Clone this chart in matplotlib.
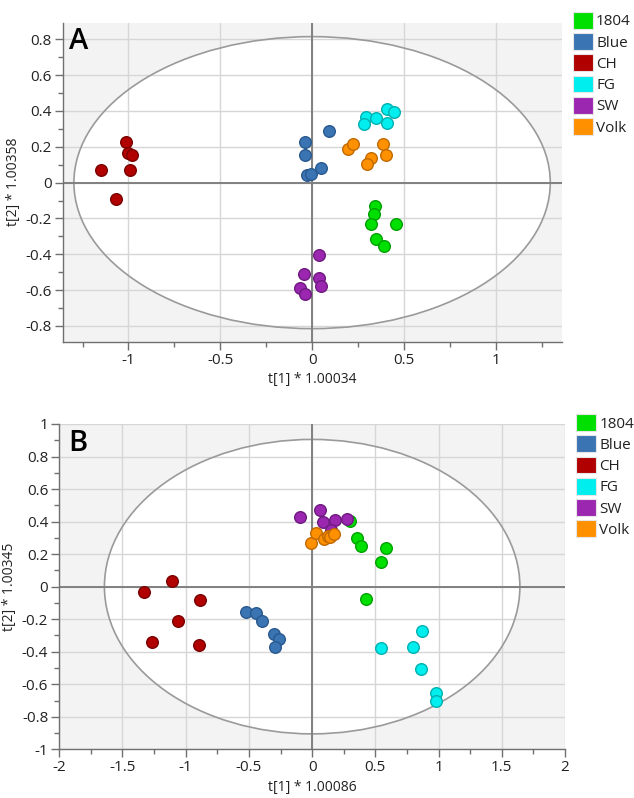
import matplotlib
matplotlib.use("Agg")
import matplotlib.pyplot as plt
from matplotlib.patches import Ellipse, Patch
from matplotlib.ticker import MultipleLocator, FuncFormatter

plt.rcParams['font.family'] = ['Open Sans', 'DejaVu Sans']

groups = ["1804", "Blue", "CH", "FG", "SW", "Volk"]
fill_colors = ["#00e000", "#3b74b3", "#b00000", "#00eeee", "#9b27b0", "#ff9000"]
edge_colors = ["#00a000", "#28598f", "#7a0000", "#00b0b0", "#6e1a80", "#c06a00"]

# Panel A scores
a_1804_x = [0.345, 0.338, 0.319, 0.457, 0.348, 0.394]
a_1804_y = [-0.128, -0.173, -0.232, -0.232, -0.314, -0.353]
a_blue_x = [-0.040, -0.040, -0.027, -0.008, 0.048, 0.093]
a_blue_y = [0.229, 0.155, 0.043, 0.050, 0.080, 0.289]
a_ch_x = [-1.013, -1.004, -0.979, -1.150, -0.993, -1.069]
a_ch_y = [0.229, 0.166, 0.153, 0.071, 0.071, -0.093]
a_fg_x = [0.294, 0.283, 0.348, 0.407, 0.446, 0.407]
a_fg_y = [0.368, 0.326, 0.363, 0.410, 0.393, 0.333]
a_sw_x = [0.035, -0.046, 0.040, 0.049, -0.066, -0.038]
a_sw_y = [-0.403, -0.511, -0.534, -0.576, -0.589, -0.623]
a_volk_x = [0.194, 0.225, 0.385, 0.400, 0.320, 0.298]
a_volk_y = [0.186, 0.214, 0.214, 0.155, 0.140, 0.103]

# Panel B scores
b_1804_x = [0.303, 0.357, 0.383, 0.581, 0.547, 0.422]
b_1804_y = [0.404, 0.297, 0.250, 0.240, 0.153, -0.073]
b_blue_x = [-0.521, -0.441, -0.394, -0.304, -0.265, -0.296]
b_blue_y = [-0.155, -0.161, -0.213, -0.289, -0.321, -0.373]
b_ch_x = [-1.112, -1.329, -0.888, -1.062, -1.263, -0.896]
b_ch_y = [0.036, -0.032, -0.081, -0.213, -0.338, -0.356]
b_fg_x = [0.871, 0.547, 0.795, 0.864, 0.977, 0.977]
b_fg_y = [-0.270, -0.379, -0.371, -0.504, -0.654, -0.700]
b_sw_x = [-0.098, 0.060, 0.084, 0.179, 0.277, 0.150]
b_sw_y = [0.431, 0.472, 0.398, 0.408, 0.418, 0.350]
b_volk_x = [-0.013, 0.029, 0.092, 0.125, 0.145, 0.171]
b_volk_y = [0.271, 0.332, 0.291, 0.311, 0.305, 0.324]

a_x = [a_1804_x, a_blue_x, a_ch_x, a_fg_x, a_sw_x, a_volk_x]
a_y = [a_1804_y, a_blue_y, a_ch_y, a_fg_y, a_sw_y, a_volk_y]
b_x = [b_1804_x, b_blue_x, b_ch_x, b_fg_x, b_sw_x, b_volk_x]
b_y = [b_1804_y, b_blue_y, b_ch_y, b_fg_y, b_sw_y, b_volk_y]

a_ellipse = (1.297, 0.815)
b_ellipse = (1.643, 0.905)

fig = plt.figure(figsize=(6.34, 7.98), dpi=100)
axA = fig.add_axes([0.0989, 0.5718, 0.787, 0.3998])
axB = fig.add_axes([0.0935, 0.0610, 0.7977, 0.4077])


def fmt(v, pos):
    if abs(v) < 1e-9:
        return "0"
    s = ("%.2f" % v).rstrip("0").rstrip(".")
    return s


def style(ax, xlim, ylim, xmaj, ymaj, ell, xlabel, ylabel, letter, letter_pos, ylabel_x):
    ax.set_facecolor("#f3f3f3")
    ax.set_xlim(*xlim)
    ax.set_ylim(*ylim)
    ax.xaxis.set_major_locator(MultipleLocator(xmaj))
    ax.xaxis.set_minor_locator(MultipleLocator(0.25))
    ax.yaxis.set_major_locator(MultipleLocator(ymaj))
    ax.yaxis.set_minor_locator(MultipleLocator(0.1))
    ax.xaxis.set_major_formatter(FuncFormatter(fmt))
    ax.yaxis.set_major_formatter(FuncFormatter(fmt))
    ax.set_axisbelow(True)
    ax.grid(True, which="major", color="#d6d6d6", linewidth=1.0, zorder=0.5)
    e = Ellipse((0, 0), 2 * ell[0], 2 * ell[1], facecolor="white",
                edgecolor="none", zorder=0.3)
    ax.add_patch(e)
    e2 = Ellipse((0, 0), 2 * ell[0], 2 * ell[1], facecolor="none",
                 edgecolor="#9a9a9a", linewidth=1.2, zorder=0.8)
    ax.add_patch(e2)
    ax.axhline(0, color="#808080", linewidth=1.4, zorder=0.9)
    ax.axvline(0, color="#808080", linewidth=1.4, zorder=0.9)
    for s in ["top", "right"]:
        ax.spines[s].set_visible(False)
    for s in ["left", "bottom"]:
        ax.spines[s].set_color("#707070")
        ax.spines[s].set_linewidth(1.0)
    ax.tick_params(which="major", length=6, width=1, color="#707070",
                   labelsize=11, labelcolor="#222222", pad=2)
    ax.tick_params(which="minor", length=3.5, width=1, color="#707070")
    ax.set_xlabel(xlabel, fontsize=10, color="#222222", labelpad=3)
    ax.set_ylabel(ylabel, fontsize=10, color="#222222")
    ax.yaxis.set_label_coords(ylabel_x, 0.5)
    ax.text(letter_pos[0], letter_pos[1], letter, transform=ax.transAxes,
            fontsize=21, fontweight="semibold", ha="left", va="top", color="black")


style(axA, (-1.358, 1.359), (-0.888, 0.893), 0.5, 0.2, a_ellipse,
      "t[1] * 1.00034", "t[2] * 1.00358", "A", (0.012, 0.985), -0.083)
style(axB, (-2, 2), (-1, 1), 0.5, 0.2, b_ellipse,
      "t[1] * 1.00086", "t[2] * 1.00345", "B", (0.017, 0.985), -0.083)

for ax, xs, ys in [(axA, a_x, a_y), (axB, b_x, b_y)]:
    for g, x, y, fc, ec in zip(groups, xs, ys, fill_colors, edge_colors):
        ax.scatter(x, y, s=70, facecolor=fc, edgecolor=ec, linewidth=1.0, zorder=3)

handles = [Patch(facecolor=fc, edgecolor="#e6e6e6", linewidth=0.8) for fc in fill_colors]
for anchor in [(0.904, 0.985), (0.909, 0.481)]:
    fig.legend(handles, groups, loc="upper left", bbox_to_anchor=anchor,
               frameon=False, fontsize=11, handlelength=1.3, handleheight=1.3,
               handletextpad=0.2, labelspacing=0.25, borderpad=0, borderaxespad=0,
               labelcolor="#222222")

fig.savefig("out.png", dpi=100)
